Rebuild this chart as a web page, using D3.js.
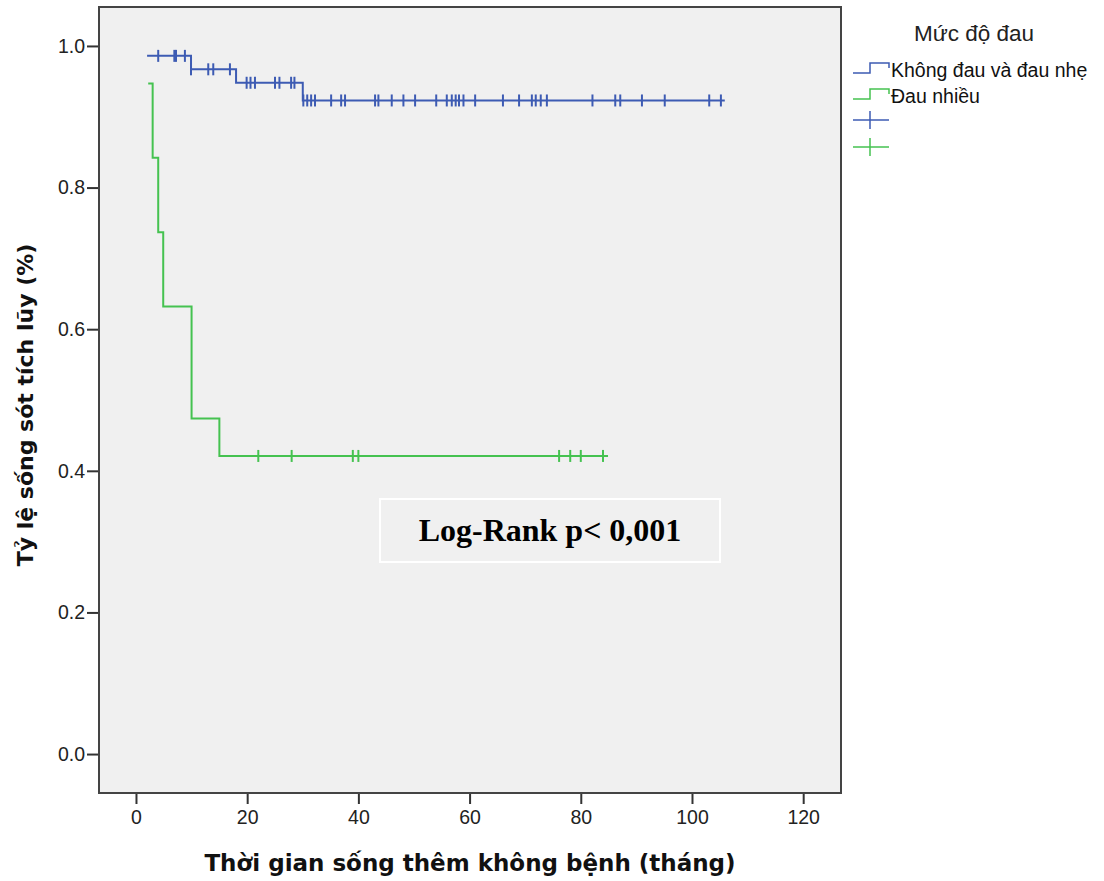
<!DOCTYPE html>
<html>
<head>
<meta charset="utf-8">
<script src="https://cdn.jsdelivr.net/npm/d3@7"></script>
<style>
  body { margin: 0; background: #fff; }
</style>
</head>
<body>
<div id="chart"></div>
<script>
// Kaplan-Meier: Mức độ đau
const groups = ['Không đau và đau nhẹ', 'Đau nhiều'];

// nhom 1 (xanh duong) - thoi diem bat dau, cac buoc giam, cac diem kiem duyet
const blueStart = 2.0;
const blueEnd = 105.9;
const blueStepTimes = [9.9, 18.0, 30.0];
const blueLevels = [0.986, 0.967, 0.948, 0.923];
const blueCensored = [4.0, 6.9, 7.2, 8.8, 9.9, 13.0, 13.9, 16.9,
  19.9, 20.6, 21.4, 25.0, 25.8, 27.9, 28.5,
  30.1, 30.8, 31.5, 32.2, 35.1, 36.9, 37.6, 43.0, 43.6, 46.0, 48.1, 50.2,
  54.0, 55.9, 56.8, 57.5, 58.1, 58.9, 61.0, 66.0, 68.9, 71.2, 71.9, 72.8, 73.9,
  82.1, 86.2, 87.1, 91.0, 95.1, 103.1, 105.2];

// nhom 2 (xanh la)
const greenStart = 2.2;
const greenEnd = 84.9;
const greenStepTimes = [3.0, 4.0, 4.9, 10.0, 15.0];
const greenLevels = [0.947, 0.842, 0.737, 0.632, 0.474, 0.421];
const greenCensored = [22.0, 28.0, 39.0, 40.0, 76.1, 78.1, 80.0, 84.0];

const xTicks = [0, 20, 40, 60, 80, 100, 120];
const yTicks = [0.0, 0.2, 0.4, 0.6, 0.8, 1.0];

const blue = '#3d5bb3';
const green = '#45c250';

const svg = d3.select('#chart').append('svg')
  .attr('width', 1104)
  .attr('height', 881);

const x = d3.scaleLinear().domain([-6.65, 126.8]).range([99, 841]);
const y = d3.scaleLinear().domain([-0.055, 1.055]).range([793, 7]);

// nen
svg.append('rect')
  .attr('x', 99).attr('y', 7)
  .attr('width', 742).attr('height', 786)
  .attr('fill', '#f0f0f0');

// truc
const xAxis = svg.append('g')
  .attr('transform', 'translate(0,793)')
  .call(d3.axisBottom(x).tickValues(xTicks).tickSize(11).tickPadding(6).tickFormat(d3.format('d')));
const yAxis = svg.append('g')
  .attr('transform', 'translate(99,0)')
  .call(d3.axisLeft(y).tickValues(yTicks).tickSize(12).tickPadding(2).tickFormat(d3.format('.1f')));

[xAxis, yAxis].forEach(function(a){
  a.select('.domain').remove();
  a.selectAll('line').attr('stroke', '#333').attr('stroke-width', 2);
  a.selectAll('text')
    .attr('font-family', 'Liberation Sans, Arial, sans-serif')
    .attr('font-size', 19.5)
    .attr('fill', '#222');
});

// khung
svg.append('rect')
  .attr('x', 99).attr('y', 7)
  .attr('width', 742).attr('height', 786)
  .attr('fill', 'none')
  .attr('stroke', '#444')
  .attr('stroke-width', 2);

// duong bac thang
function stepPoints(start, end, times, levels) {
  const pts = [[start, levels[0]]];
  times.forEach(function(t, i){
    pts.push([t, levels[i]]);
    pts.push([t, levels[i + 1]]);
  });
  pts.push([end, levels[levels.length - 1]]);
  return pts;
}

function levelAt(t, times, levels) {
  let v = levels[0];
  times.forEach(function(s, i){ if (t >= s) v = levels[i + 1]; });
  return v;
}

const line = d3.line()
  .x(function(d){ return x(d[0]); })
  .y(function(d){ return y(d[1]); });

const series = [
  {color: blue, start: blueStart, end: blueEnd, times: blueStepTimes, levels: blueLevels, cens: blueCensored},
  {color: green, start: greenStart, end: greenEnd, times: greenStepTimes, levels: greenLevels, cens: greenCensored}
];

series.forEach(function(s){
  svg.append('path')
    .attr('d', line(stepPoints(s.start, s.end, s.times, s.levels)))
    .attr('fill', 'none')
    .attr('stroke', s.color)
    .attr('stroke-width', 2);

  svg.selectAll(null)
    .data(s.cens)
    .enter()
    .append('line')
    .attr('x1', function(d){ return x(d); })
    .attr('x2', function(d){ return x(d); })
    .attr('y1', function(d){ return y(levelAt(d, s.times, s.levels)) - 6; })
    .attr('y2', function(d){ return y(levelAt(d, s.times, s.levels)) + 6; })
    .attr('stroke', s.color)
    .attr('stroke-width', 2);
});

// hop Log-Rank
svg.append('rect')
  .attr('x', 380).attr('y', 499)
  .attr('width', 340).attr('height', 63)
  .attr('fill', 'none')
  .attr('stroke', '#fff')
  .attr('stroke-width', 2);
svg.append('text')
  .attr('x', 550).attr('y', 541)
  .attr('text-anchor', 'middle')
  .attr('font-family', 'Liberation Serif, Times New Roman, serif')
  .attr('font-weight', 'bold')
  .attr('font-size', 32)
  .text('Log-Rank p< 0,001');

// tieu de truc
svg.append('text')
  .attr('x', 470).attr('y', 871)
  .attr('text-anchor', 'middle')
  .attr('font-family', 'DejaVu Sans, sans-serif')
  .attr('font-weight', 'bold')
  .attr('font-size', 23)
  .attr('fill', '#111')
  .text('Thời gian sống thêm không bệnh (tháng)');

svg.append('text')
  .attr('transform', 'translate(33,405) rotate(-90)')
  .attr('text-anchor', 'middle')
  .attr('font-family', 'DejaVu Sans, sans-serif')
  .attr('font-weight', 'bold')
  .attr('font-size', 22)
  .attr('fill', '#111')
  .text('Tỷ lệ sống sót tích lũy (%)');

// chu giai
const legend = svg.append('g');
legend.append('text')
  .attr('x', 974).attr('y', 41)
  .attr('text-anchor', 'middle')
  .attr('font-family', 'Liberation Sans, Arial, sans-serif')
  .attr('font-size', 22.5)
  .attr('fill', '#222')
  .text('Mức độ đau');

const legendRows = [70, 96];
groups.forEach(function(g, i){
  const yy = legendRows[i];
  const c = series[i].color;
  legend.append('path')
    .attr('d', 'M853,' + (yy + 3) + 'H870V' + (yy - 7) + 'H889V' + (yy - 2))
    .attr('fill', 'none')
    .attr('stroke', c)
    .attr('stroke-width', 1.5);
  legend.append('text')
    .attr('x', 891).attr('y', yy + 7)
    .attr('font-family', 'Liberation Sans, Arial, sans-serif')
    .attr('font-size', 19.5)
    .attr('fill', '#111')
    .text(g);
});

[120, 147].forEach(function(yy, i){
  const c = series[i].color;
  legend.append('line')
    .attr('x1', 853).attr('x2', 889).attr('y1', yy).attr('y2', yy)
    .attr('stroke', c).attr('stroke-width', 1.5);
  legend.append('line')
    .attr('x1', 870).attr('x2', 870).attr('y1', yy - 9).attr('y2', yy + 9)
    .attr('stroke', c).attr('stroke-width', 1.5);
});
</script>
</body>
</html>
